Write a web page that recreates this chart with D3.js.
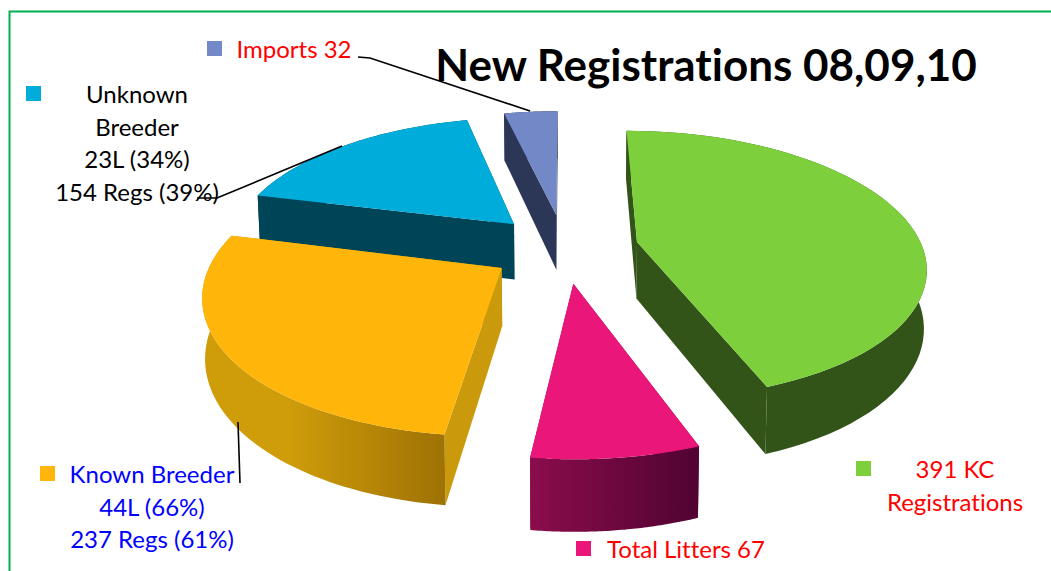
<!DOCTYPE html>
<html><head><meta charset="utf-8">
<script src="https://cdn.jsdelivr.net/npm/d3@7"></script>
<style>html,body{margin:0;padding:0;background:#fff;overflow:hidden}text{font-family:Lato,"Open Sans",sans-serif;font-variant-ligatures:none}</style>
</head><body><svg id="c" width="1051" height="571"></svg>
<script>
const categories = ["391 KC Registrations","Total Litters 67","Known Breeder","Unknown Breeder","Imports 32"];
const values = [391,67,237,154,32];
const topColors = ["#7dd03c","#ea167a","#ffb50a","#00acd9","#7388c6"];
const wallColors = ["#335418","#7a0c48","#cb9a0c","#004458","#2c3757"];
const title = "New Registrations 08,09,10";

const svg = d3.select("#c");
const cx=564.5, cy=248, explode=0.26, persp=0.17, depth=57, taper=0.008;
const sx = d3.scaleLinear().domain([-1,1]).range([-285.5,285.5]);
const sy = d3.scaleLinear().domain([-1,1]).range([132,-132]);
const arcs = d3.pie().value(d=>d).sort(null).startAngle(0).endAngle(2*Math.PI)(values);
const line = d3.line();

function project(u,v,z){
  const s = 1/(1+persp*v);
  const k = 1-taper*z;
  return [cx+sx(u)*s*k, cy+sy(v)*s+depth*s*z];
}
function sliceGeom(a){
  const mid=(a.startAngle+a.endAngle)/2;
  const ox=explode*Math.sin(mid), oy=explode*Math.cos(mid);
  const ring=d3.range(0,61).map(i=>a.startAngle+(a.endAngle-a.startAngle)*i/60)
    .map(t=>[ox+Math.sin(t),oy+Math.cos(t)]);
  return {apex:[ox,oy],ring};
}
const defs=svg.append("defs");
const grads=[
 {id:"gPink",x1:531,x2:694,stops:["#8a0d4b","#520333"]},
 {id:"gYellow",x1:290,x2:452,stops:["#cf9c0a","#9c7004"]}];
grads.forEach(g=>{
  const lg=defs.append("linearGradient").attr("id",g.id).attr("gradientUnits","userSpaceOnUse")
    .attr("x1",g.x1).attr("x2",g.x2).attr("y1",0).attr("y2",0);
  g.stops.forEach((c,i)=>lg.append("stop").attr("offset",i).attr("stop-color",c));
});
const arcFill=i=> i===1?"url(#gPink)":i===2?"url(#gYellow)":wallColors[i];

// border
svg.append("path").attr("d","M9.5,571V11.5H1051").attr("fill","none").attr("stroke","#00b050").attr("stroke-width",2);

// back to front
[4,3,0,2,1].forEach(i=>{
  const g=sliceGeom(arcs[i]), gs=svg.append("g");
  const first=g.ring[0], last=g.ring[g.ring.length-1];
  const wall=(p,q)=>[project(...p,0),project(...q,0),project(...q,1),project(...p,1)];
  const walls=[[g.apex,first],[g.apex,last]]
    .sort((a,b)=>(b[1][1]+b[0][1])-(a[1][1]+a[0][1]));
  walls.forEach(w=>gs.append("path").attr("d",line(wall(w[0],w[1]))+"Z").attr("fill",wallColors[i]));
  const outer=g.ring.map(p=>project(...p,0)).concat(g.ring.slice().reverse().map(p=>project(...p,1)));
  gs.append("path").attr("d",line(outer)+"Z").attr("fill",arcFill(i));
  const top=[project(...g.apex,0)].concat(g.ring.map(p=>project(...p,0)));
  gs.append("path").attr("d",line(top)+"Z").attr("fill",topColors[i]);
});

// leaders
[[[358,57],[370,58],[530,111]],[[342,146],[217,198],[197,198]],[[238,422],[240,483]]].forEach(p=>
  svg.append("path").attr("d",line(p)).attr("fill","none").attr("stroke","#000").attr("stroke-width",1.6));

// title
svg.append("text").attr("x",706).attr("y",81).attr("text-anchor","middle")
  .attr("font-size",44).attr("font-weight",700).attr("fill","#000").text(title);

// legend
const legend=[
 {i:4,sq:[207,41],fill:"#ff0000",lines:["Imports 32"],x:294,y:58},
 {i:3,sq:[26,86],fill:"#000",lines:["Unknown","Breeder","23L (34%)","154 Regs (39%)"],x:137,y:103},
 {i:2,sq:[40,466],fill:"#0000ff",lines:["Known Breeder","44L (66%)","237 Regs (61%)"],x:152,y:483},
 {i:1,sq:[576,541],fill:"#ff0000",lines:["Total Litters 67"],x:686,y:558},
 {i:0,sq:[856,461],fill:"#ff0000",lines:["391 KC","Registrations"],x:955,y:478}];
legend.forEach(l=>{
  svg.append("rect").attr("x",l.sq[0]).attr("y",l.sq[1]).attr("width",15).attr("height",15).attr("fill",topColors[l.i]);
  l.lines.forEach((t,j)=>svg.append("text").attr("x",l.x).attr("y",l.y+j*32.5).attr("text-anchor","middle")
    .attr("font-size",24).attr("fill",l.fill).text(t));
});
</script></body></html>
